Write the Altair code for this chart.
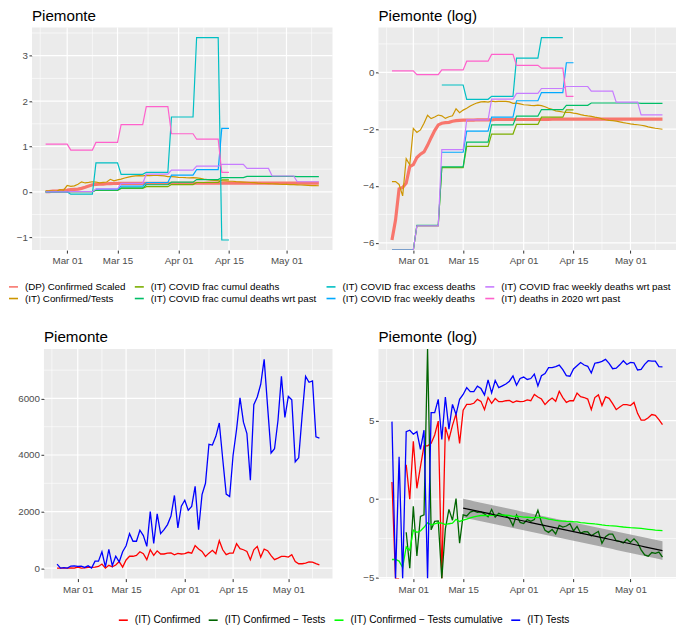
import numpy as np
import pandas as pd
import altair as alt

FONT = "Liberation Sans"

# ---------------- values ----------------
START_DATE = "2020-02-24"
END_DATE = "2020-05-10"
SHORT_END_DATE = "2020-04-15"      # last day of the series that stop early
FIT_START_DATE = "2020-03-15"      # first day of the fitted trend (bottom-right)

# daily new confirmed cases / tests, Piemonte, Feb 24 .. May 10
confirmed = [3, 0, 0, -1, 9, 1, 40, 2, 8, 30, 30, 35, 60, 145, 0, 100, 45, 110, 230, 35, 290,
             420, 420, 450, 580, 510, 300, 650, 450, 610, 500, 500, 530, 540, 470, 520, 500,
             510, 560, 530, 795, 675, 590, 415, 530, 630, 510,
             970, 650, 475, 530, 530, 865, 690, 650, 590, 300,
             650, 770, 390, 675, 615, 440, 300, 355, 415, 415,
             390, 475, 237, 155, 155, 180, 220, 210, 160, 115]
tests = [140, 0, 15, 0, 74, 81, 63, 74, 24, 81, 0, 247, 247, 580, 45, 665, 86, 420, 220, 580, 790,
         1220, 950, 950, 1340, 1150, 770, 2000, 870, 1920, 1220, 1360, 1540, 1840, 2570, 1420, 2190,
         2400, 2050, 2180, 2890, 1360, 2600, 3000, 4380, 4350, 4660,
         5130, 3850, 2620, 2530, 4000, 4900, 6020, 5160, 4760, 3110,
         5780, 6050, 6500, 7380, 5700, 4070, 4220, 5220, 6780, 5330,
         6070, 5950, 3760, 3900, 5400, 6780, 6570, 6620, 4640, 4600]

# (DP) Confirmed Scaled, natural log, daily
dp_confirmed_scaled_log = [
    -5.90, -5.20, -4.10, -4.05, -3.90, -3.32, -3.25,
    -3.00, -2.88, -2.80, -2.57, -2.30, -2.05, -1.85,
    -1.79, -1.77, -1.76, -1.72, -1.70, -1.69, -1.68,
    -1.68, -1.68, -1.68, -1.67, -1.67, -1.67, -1.67,
    -1.67, -1.66, -1.66, -1.66, -1.66, -1.66, -1.66,
    -1.66, -1.66, -1.66, -1.66, -1.66, -1.66, -1.66,
    -1.66, -1.66, -1.66, -1.65, -1.65, -1.65, -1.65,
    -1.65, -1.65, -1.65, -1.65, -1.65, -1.65, -1.65,
    -1.65, -1.65, -1.65, -1.65, -1.65, -1.65, -1.65,
    -1.65, -1.65, -1.65, -1.65, -1.65, -1.65, -1.65,
    -1.65, -1.65, -1.65, -1.65, -1.65, -1.65, -1.65]

# weekly series (weeks Monday..Sunday from Feb 24), linear values
frac_cumul_deaths = [0.0, 0.0045, 0.035, 0.074, 0.114, 0.160, 0.206, 0.267]
frac_cumul_deaths_wrt_past = [0.0, 0.0046, 0.0358, 0.086, 0.157, 0.214, 0.270, 0.313, 0.340, 0.340, 0.335]
frac_excess_deaths = [0.0, -0.05, 0.64, 0.387, 0.43, 1.65, 3.40, -1.06]
frac_weekly_deaths = [None, None, 0.060, 0.126, 0.206, 0.368, 0.49, 1.40]
frac_weekly_deaths_wrt_past = [0.0, 0.0045, 0.066, 0.188, 0.39, 0.477, 0.566, 0.607, 0.517, 0.35, 0.223]
deaths_2020_wrt_past = [1.05, 0.92, 1.09, 1.48, 1.88, 1.28, 1.16, 0.43]

top_names = ["(DP) Confirmed Scaled", "(IT) Confirmed/Tests", "(IT) COVID frac cumul deaths",
             "(IT) COVID frac cumul deaths wrt past", "(IT) COVID frac excess deaths",
             "(IT) COVID frac weekly deaths", "(IT) COVID frac weekly deaths wrt past",
             "(IT) deaths in 2020 wrt past"]
top_colors = ["#F8766D", "#CD9600", "#7CAE00", "#00BE67", "#00BFC4", "#00A9FF", "#C77CFF", "#FF61CC"]
bottom_names = ["(IT) Confirmed", "(IT) Confirmed \u2212 Tests",
                "(IT) Confirmed \u2212 Tests cumulative", "(IT) Tests"]
bottom_colors = ["#FF0000", "#006400", "#00FF00", "#0000FF"]

date_breaks = ["2020-03-01", "2020-03-15", "2020-04-01", "2020-04-15", "2020-05-01"]
date_minor_breaks = ["2020-02-22T12:00", "2020-03-08", "2020-03-23T12:00", "2020-04-08",
                     "2020-04-23", "2020-05-08"]
yticks_top_lin = [-1, 0, 1, 2, 3]
yticks_top_log = [-6, -4, -2, 0]
yticks_bot_lin = [0, 2000, 4000, 6000]
yticks_bot_log = [-5, 0, 5]

# ---------------- derived tables ----------------
DAY_MS = 86_400_000
LOW, HIGH = -1e6, 1e6          # stand-ins for -Inf / +Inf (drawn at the panel edge)


def to_ms(s):
    return int(pd.Timestamp(s).value // 1_000_000)


start = pd.Timestamp(START_DATE)
n_days = (pd.Timestamp(END_DATE) - start).days + 1
day = np.arange(n_days)
t_ms = to_ms(START_DATE) + day * DAY_MS
span = t_ms[-1] - t_ms[0]
XDOM = [int(t_ms[0] - 0.05 * span), int(t_ms[-1] + 0.05 * span)]
XSCALE = alt.Scale(type="utc", domain=XDOM, nice=False)


def weekly_to_daily(vals, end_date):
    last = (pd.Timestamp(end_date) - start).days
    out = np.full(n_days, np.nan)
    for w, v in enumerate(vals):
        for d in range(7 * w, min(7 * w + 7, last + 1)):
            out[d] = np.nan if v is None else v
    return out


def log_or_edge(v):
    v = np.asarray(v, float)
    out = np.full(v.shape, np.nan)
    with np.errstate(all="ignore"):
        pos = v > 0
        out[pos] = np.log(v[pos])
        out[v == 0] = -np.inf
    return out


def edge(v):
    v = np.array(v, float)
    v[np.isposinf(v)] = HIGH
    v[np.isneginf(v)] = LOW
    return v


def expanded(*arrays):
    vals = np.concatenate([np.asarray(a, float).ravel() for a in arrays])
    vals = vals[np.isfinite(vals) & (np.abs(vals) < 1e5)]
    lo, hi = vals.min(), vals.max()
    pad = 0.05 * (hi - lo)
    return [float(lo - pad), float(hi + pad)]


def long_frame(values, names):
    frames = []
    for k, name in enumerate(names):
        v = np.asarray(values[name], float)
        bad = np.isnan(v)
        f = pd.DataFrame({"t": t_ms, "v": v, "series": name, "seg": np.cumsum(bad), "k": k})
        frames.append(f[~bad])
    return pd.concat(frames, ignore_index=True)


C = np.array(confirmed, float)
T = np.array(tests, float)
with np.errstate(all="ignore"):
    cum_ratio = np.cumsum(C) / np.cumsum(T)
    logC = log_or_edge(C)
    logT = log_or_edge(T)
    log_ratio = logC - logT
    log_cum = np.log(cum_ratio)

top_lin = {
    top_names[0]: np.exp(np.array(dp_confirmed_scaled_log)),
    top_names[1]: cum_ratio,
    top_names[2]: weekly_to_daily(frac_cumul_deaths, SHORT_END_DATE),
    top_names[3]: weekly_to_daily(frac_cumul_deaths_wrt_past, END_DATE),
    top_names[4]: weekly_to_daily(frac_excess_deaths, SHORT_END_DATE),
    top_names[5]: weekly_to_daily(frac_weekly_deaths, SHORT_END_DATE),
    top_names[6]: weekly_to_daily(frac_weekly_deaths_wrt_past, END_DATE),
    top_names[7]: weekly_to_daily(deaths_2020_wrt_past, SHORT_END_DATE),
}
top_log = {k: edge(log_or_edge(v)) for k, v in top_lin.items()}

df_top_lin = long_frame(top_lin, top_names)
df_top_log = long_frame(top_log, top_names)

bot_lin = {bottom_names[0]: C, bottom_names[3]: T}
bot_log = {bottom_names[0]: edge(logC), bottom_names[1]: edge(log_ratio),
           bottom_names[2]: edge(log_cum), bottom_names[3]: edge(logT)}
df_bot_lin = long_frame(bot_lin, [bottom_names[0], bottom_names[3]])
df_bot_log = long_frame(bot_log, bottom_names)

# linear trend of log(Confirmed/Tests) from Mar 15 with a 95% prediction band
fit_mask = (day >= (pd.Timestamp(FIT_START_DATE) - start).days) & np.isfinite(log_ratio)
fx, fy = day[fit_mask].astype(float), log_ratio[fit_mask]
slope, icpt = np.polyfit(fx, fy, 1)
fit = icpt + slope * fx
n_fit = len(fx)
s_res = np.sqrt(np.sum((fy - fit) ** 2) / (n_fit - 2))
sxx = np.sum((fx - fx.mean()) ** 2)
T975 = 2.004
half = T975 * s_res * np.sqrt(1 + 1 / n_fit + (fx - fx.mean()) ** 2 / sxx)
df_fit = pd.DataFrame({"t": t_ms[fit_mask], "fit": fit, "lo": fit - half, "hi": fit + half})

YD_TL = expanded(*top_lin.values())
YD_TR = expanded(*top_log.values())
YD_BL = expanded(C, T)
YD_BR = expanded(*bot_log.values(), df_fit["lo"], df_fit["hi"])

# ---------------- chart pieces ----------------
AX_LABEL = dict(labelColor="#4D4D4D", labelFontSize=9.8, labelFont=FONT, tickColor="#333333",
                tickSize=3, tickWidth=1, domain=False, grid=False, title=None)
X_AXIS = alt.Axis(values=[to_ms(d) for d in date_breaks], format="%b %d", labelPadding=2.5, **AX_LABEL)
major_x = pd.DataFrame({"t": [to_ms(d) for d in date_breaks]})
minor_x = pd.DataFrame({"t": [to_ms(d) for d in date_minor_breaks]})


def yscale(dom):
    return alt.Scale(domain=dom, nice=False, zero=False, clamp=True)


def yaxis(ticks):
    return alt.Axis(values=ticks, format="d", labelPadding=1.5, **AX_LABEL)


def X():
    return alt.X("t:T", scale=XSCALE, axis=X_AXIS)


def Y(field, dom, ticks):
    return alt.Y(field, scale=yscale(dom), axis=yaxis(ticks))


def grid(dom, ticks):
    step = ticks[1] - ticks[0]
    minor = [ticks[0] - step / 2] + [t + step / 2 for t in ticks]
    minor = [m for m in minor if dom[0] <= m <= dom[1]]
    return [
        alt.Chart(minor_x).mark_rule(color="white", strokeWidth=0.6).encode(x=X()),
        alt.Chart(pd.DataFrame({"v": minor})).mark_rule(color="white", strokeWidth=0.6).encode(y=Y("v:Q", dom, ticks)),
        alt.Chart(major_x).mark_rule(color="white", strokeWidth=1.2).encode(x=X()),
        alt.Chart(pd.DataFrame({"v": ticks})).mark_rule(color="white", strokeWidth=1.2).encode(y=Y("v:Q", dom, ticks)),
    ]


def lines(df, dom, ticks, names, colors, legend, width_px):
    return alt.Chart(df).mark_line(strokeWidth=width_px, clip=True).encode(
        x=X(),
        y=Y("v:Q", dom, ticks),
        color=alt.Color("series:N", scale=alt.Scale(domain=names, range=colors), legend=legend),
        detail="seg:N",
        order="k:Q",
    )


VIEW = alt.ViewBackground(fill="#EBEBEB", stroke=None)


def title(text):
    return alt.TitleParams(text, anchor="start", frame="group", fontSize=15.2, font=FONT,
                           fontWeight="normal", color="black", offset=3)


# legend order: 4 columns filled row by row
leg_idx = [0, 2, 4, 6, 1, 3, 5, 7]
leg_names = [top_names[i] for i in leg_idx]
leg_colors = [top_colors[i] for i in leg_idx]

top_legend = alt.Legend(orient="none", legendX=-24, legendY=254, direction="horizontal", columns=4,
                        title=None, symbolType="stroke", symbolSize=81, symbolStrokeWidth=1.6,
                        labelFontSize=9.8, labelFont=FONT, labelColor="black", labelOffset=6,
                        columnPadding=5, rowPadding=1, labelLimit=400, padding=0)
bottom_legend = alt.Legend(orient="none", legendX=74, legendY=266, direction="horizontal",
                           title=None, symbolType="stroke", symbolSize=81, symbolStrokeWidth=1.6,
                           labelFontSize=10.2, labelFont=FONT, labelColor="black", labelOffset=6,
                           columnPadding=4, labelLimit=400, padding=0)

W1, W2, W3 = 301, 298, 289
H1, H2 = 223, 230

dp_name = top_names[0]
p1 = alt.layer(
    *grid(YD_TL, yticks_top_lin),
    lines(df_top_lin[df_top_lin.series == dp_name], YD_TL, yticks_top_lin, leg_names, leg_colors, top_legend, 3.2),
    lines(df_top_lin[df_top_lin.series != dp_name], YD_TL, yticks_top_lin, leg_names, leg_colors, top_legend, 1.2),
).properties(width=W1, height=H1, title=title("Piemonte"), view=VIEW)

p2 = alt.layer(
    *grid(YD_TR, yticks_top_log),
    lines(df_top_log[df_top_log.series == dp_name], YD_TR, yticks_top_log, leg_names, leg_colors, None, 3.2),
    lines(df_top_log[df_top_log.series != dp_name], YD_TR, yticks_top_log, leg_names, leg_colors, None, 1.2),
).properties(width=W2, height=H1, title=title("Piemonte (log)"), view=VIEW)

p3 = alt.layer(
    *grid(YD_BL, yticks_bot_lin),
    lines(df_bot_lin, YD_BL, yticks_bot_lin, bottom_names, bottom_colors, bottom_legend, 1.3),
).properties(width=W3, height=H2, title=title("Piemonte"), view=VIEW)

band = alt.Chart(df_fit).mark_area(color="#999999", opacity=0.8).encode(
    x=X(), y=Y("lo:Q", YD_BR, yticks_bot_log), y2="hi:Q",
)
trend = alt.Chart(df_fit).mark_line(color="black", strokeWidth=1.2).encode(
    x=X(), y=Y("fit:Q", YD_BR, yticks_bot_log),
)
p4 = alt.layer(
    *grid(YD_BR, yticks_bot_log),
    band,
    lines(df_bot_log, YD_BR, yticks_bot_log, bottom_names, bottom_colors, None, 1.3),
    trend,
).properties(width=W2, height=H2, title=title("Piemonte (log)"), view=VIEW)


def spacer(w):
    return alt.Chart(pd.DataFrame({"a": [0]})).mark_point(opacity=0).encode(
        x=alt.X("a:Q", axis=None), y=alt.Y("a:Q", axis=None)
    ).properties(width=w, height=H2)


row1 = alt.hconcat(p1, p2, spacing=46, bounds="flush").resolve_scale(color="independent")
row2 = alt.hconcat(spacer(12), p3, spacer(46), p4, spacing=0, bounds="flush").resolve_scale(color="independent")

chart = alt.vconcat(row1, row2, spacing=26).resolve_scale(
    color="independent"
).properties(padding=0).configure(font=FONT).configure_view(stroke=None)

chart.save("out.html", embed_options={"renderer": "svg", "actions": False})
